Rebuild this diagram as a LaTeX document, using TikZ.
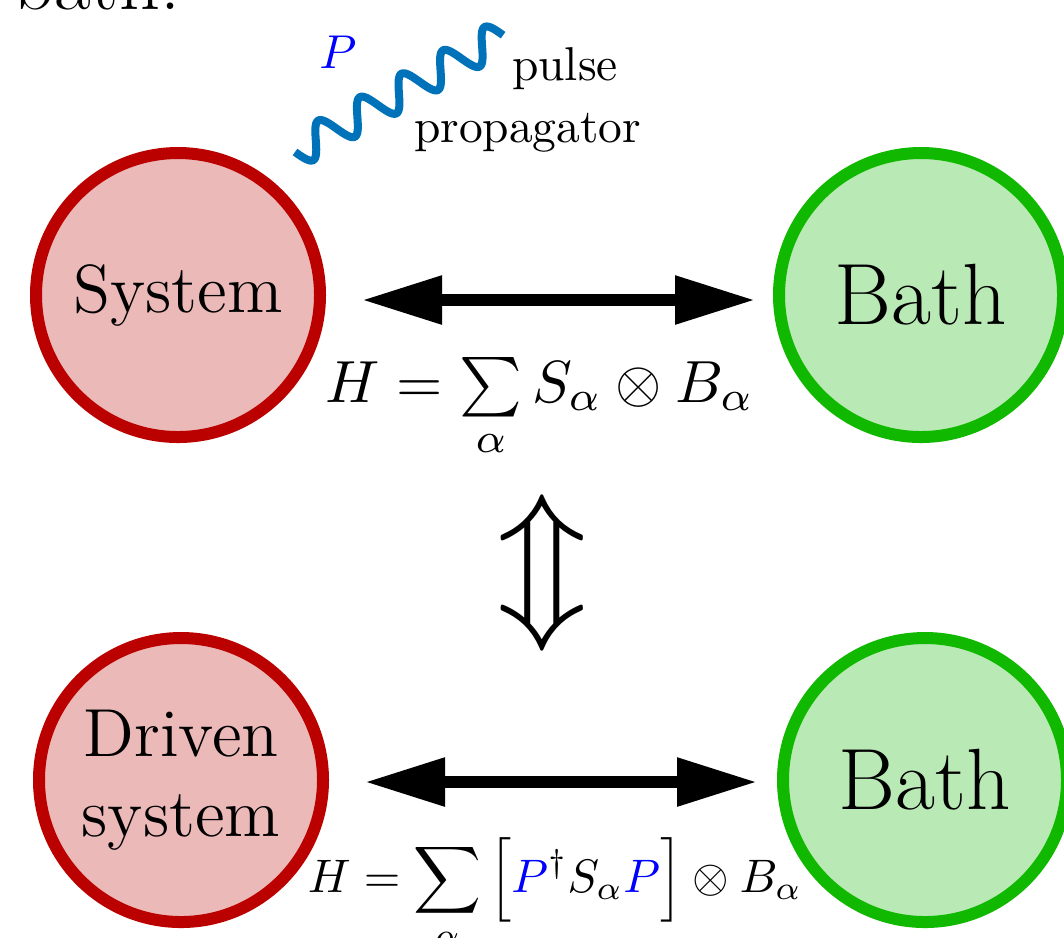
\documentclass[tikz,border=0pt]{standalone}
\usepackage{graphicx}
\usepackage{amsmath}
\usetikzlibrary{arrows.meta}
\definecolor{sysline}{RGB}{187,0,0}
\definecolor{sysfill}{RGB}{236,185,185}
\definecolor{bathline}{RGB}{16,185,0}
\definecolor{bathfill}{RGB}{185,233,181}
\definecolor{wavecol}{RGB}{0,114,185}
\tikzset{
  sysc/.style={circle, draw=sysline, fill=sysfill, line width=2.4pt, minimum size=56.8pt, inner sep=0pt, outer sep=0pt, align=center, font=\fontsize{13.6}{16}\selectfont},
  bathc/.style={circle, draw=bathline, fill=bathfill, line width=2.4pt, minimum size=56.8pt, inner sep=0pt, outer sep=0pt, font=\fontsize{17.4}{20}\selectfont},
  dblarrow/.style={line width=2.4pt, {Triangle[length=16pt,width=9.2pt]}-{Triangle[length=16pt,width=9.2pt]}},
  wave/.style={draw=wavecol, line width=1.6pt},
  lbl/.style={inner sep=0pt, font=\fontsize{9.5}{11}\selectfont}
}
\begin{document}
\begin{tikzpicture}[x=0.2pt, y=-0.2pt]
\useasboundingbox (0,0) rectangle (1064,937);
\clip (0,0) rectangle (1064,937);
% partial title text at top
\node[anchor=base east, inner sep=0pt, font=\fontsize{16}{19}\selectfont] (ttl) at (181,9) {bath.};
% circles
\node[sysc] (sys) at (178,295) {System};
\node[bathc] (bathA) at (921,295) {Bath};
\node[sysc] (drv) at (181,780) {Driven\\system};
\node[bathc] (bathB) at (925,780) {Bath};
% coupling arrows
\draw[dblarrow] ([xshift=8.4pt,yshift=-1pt]sys.east) -- ([xshift=-4.8pt,yshift=-1pt]bathA.west);
\draw[dblarrow] ([xshift=8.4pt,yshift=-0.4pt]drv.east) -- ([xshift=-5.2pt,yshift=-0.4pt]bathB.west);
% formulas
\node[anchor=base, inner sep=0pt] (f1) at (540,402)
  {\scalebox{1.19}{$H = \sum\limits_{\alpha} S_\alpha \otimes B_\alpha$}};
\node[anchor=base, inner sep=0pt] (f2) at (555,892)
  {\scalebox{0.94}{$H = \displaystyle\sum_{\alpha} \Big[ {\color{blue}P}^\dagger S_\alpha {\color{blue}P} \Big] \otimes B_\alpha$}};
% equivalence arrow
\node[inner sep=0pt] (eqv) at (542,573) {\scalebox{3}{$\Updownarrow$}};
% pulse
\draw[wave] plot[domain=0:238.6, samples=240, smooth]
  ({295 + 0.8717*\x + 7.846*sin(7.547*\x)}, {152 - 0.4904*\x + 13.95*sin(7.547*\x)});
\node[inner sep=0pt, text=blue, anchor=base] (pP) at (338,68) {\scalebox{0.95}{$P$}};
\node[lbl, anchor=base west] (pl1) at (511,80) {pulse};
\node[lbl, anchor=base west] (pl2) at (413,142) {propagator};
\end{tikzpicture}
\end{document}
